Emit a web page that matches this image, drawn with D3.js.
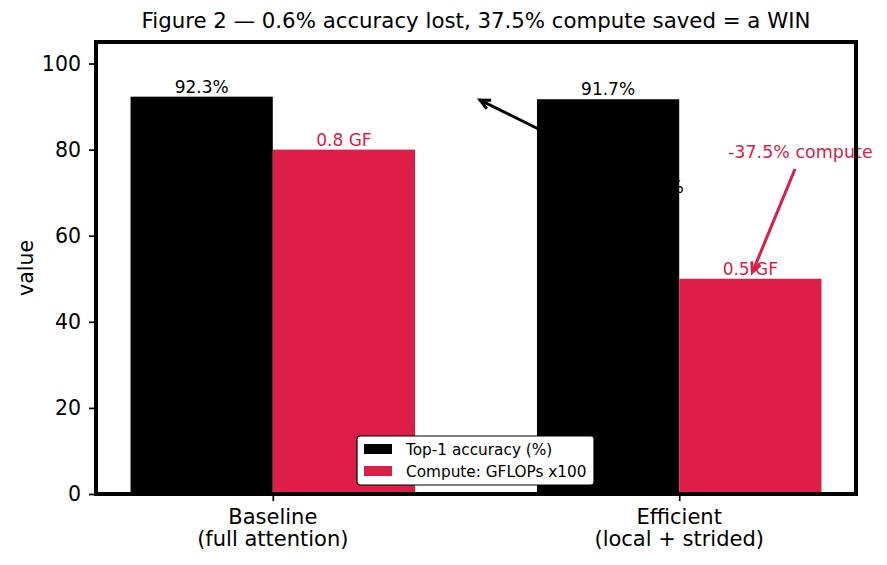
<!DOCTYPE html>
<html>
<head>
<meta charset="utf-8">
<script src="https://cdn.jsdelivr.net/npm/d3@7"></script>
<style>
  body { margin: 0; background: #fff; }
  text { font-family: "DejaVu Sans", sans-serif; }
</style>
</head>
<body>
<svg id="chart" width="887" height="565"></svg>
<script>
// data
const categories = ['Baseline\n(full attention)', 'Efficient\n(local + strided)']
const accuracy = [92.3, 91.7]
const compute = [80, 50]
const accLabels = ['92.3%', '91.7%']
const compLabels = ['0.8 GF', '0.5 GF']
const yTicks = [0, 20, 40, 60, 80, 100]
const seriesNames = ['Top-1 accuracy (%)', 'Compute: GFLOPs x100']

const black = '#000000'
const red = '#DC1E48'

const svg = d3.select('#chart')
const plotL = 96, plotR = 856, plotT = 42, plotB = 494
const barW = 0.35

// x is continuous like matplotlib positions 0,1
const x = d3.scaleLinear().domain([-0.435, 1.435]).range([plotL, plotR])
const y = d3.scaleLinear().domain([0, 105]).range([plotB, plotT])

// title
svg.append('text')
  .attr('x', (plotL + plotR) / 2).attr('y', 28)
  .attr('text-anchor', 'middle')
  .style('font-size', '21.3px')
  .text('Figure 2 \u2014 0.6% accuracy lost, 37.5% compute saved = a WIN')

// annotation text, mostly hidden under the bar
svg.append('text')
  .attr('x', 684).attr('y', 193)
  .attr('text-anchor', 'end')
  .style('font-size', '17.5px')
  .text('-0.6%')

// bars
const g = svg.append('g')
g.selectAll('rect.acc')
  .data(accuracy)
  .enter().append('rect')
  .attr('class', 'acc')
  .attr('x', (d, i) => x(i - barW))
  .attr('width', x(barW) - x(0))
  .attr('y', (d) => y(d))
  .attr('height', (d) => y(0) - y(d))
  .style('fill', black)

g.selectAll('rect.comp')
  .data(compute)
  .enter().append('rect')
  .attr('class', 'comp')
  .attr('x', (d, i) => x(i))
  .attr('width', x(barW) - x(0))
  .attr('y', (d) => y(d))
  .attr('height', (d) => y(0) - y(d))
  .style('fill', red)

// value labels
g.selectAll('text.acc')
  .data(accuracy)
  .enter().append('text')
  .attr('x', (d, i) => x(i - barW / 2))
  .attr('y', (d) => y(d) - 4)
  .attr('text-anchor', 'middle')
  .style('font-size', '17px')
  .text((d, i) => accLabels[i])

g.selectAll('text.comp')
  .data(compute)
  .enter().append('text')
  .attr('x', (d, i) => x(i + barW / 2))
  .attr('y', (d) => y(d) - 4)
  .attr('text-anchor', 'middle')
  .style('font-size', '17px')
  .style('fill', red)
  .text((d, i) => compLabels[i])

// arrows with open heads like matplotlib '->'
function arrow(x1, y1, x2, y2, color) {
  const a = Math.atan2(y2 - y1, x2 - x1)
  const L = 11, w = 0.45
  svg.append('line')
    .attr('x1', x1).attr('y1', y1).attr('x2', x2).attr('y2', y2)
    .style('stroke', color).style('stroke-width', 3)
  svg.append('path')
    .attr('d', `M${x2 - L * Math.cos(a - w)},${y2 - L * Math.sin(a - w)} L${x2},${y2} L${x2 - L * Math.cos(a + w)},${y2 - L * Math.sin(a + w)}`)
    .style('fill', 'none').style('stroke', color).style('stroke-width', 3)
    .style('stroke-linejoin', 'miter')
}
arrow(x(0.66), y(84.5), x(0.51), y(91.5), black)

svg.append('text')
  .attr('x', 728).attr('y', 158)
  .style('font-size', '17.5px')
  .style('fill', red)
  .text('-37.5% compute')

arrow(x(1.285), y(75.5), x(1.18), y(51.5), red)

// axes
const yAxis = svg.append('g')
  .attr('transform', `translate(${plotL},0)`)
  .call(d3.axisLeft(y).tickValues(yTicks).tickSize(7).tickPadding(8))
yAxis.select('.domain').remove()
yAxis.selectAll('text').style('font-size', '20.5px').style('fill', '#000')
yAxis.selectAll('line').style('stroke-width', 1.7)

const xAxis = svg.append('g')
  .attr('transform', `translate(0,${plotB})`)
  .call(d3.axisBottom(x).tickValues([0, 1]).tickSize(7).tickFormat(''))
xAxis.select('.domain').remove()
xAxis.selectAll('line').style('stroke-width', 1.7)

categories.forEach((c, i) => {
  const lines = c.split('\n')
  const t = svg.append('text')
    .attr('x', x(i)).attr('y', 524)
    .attr('text-anchor', 'middle')
    .style('font-size', '21px')
  lines.forEach((l, j) => {
    t.append('tspan').attr('x', x(i)).attr('dy', j === 0 ? 0 : 22).text(l)
  })
})

svg.append('text')
  .attr('transform', `translate(33,${(plotT + plotB) / 2}) rotate(-90)`)
  .attr('text-anchor', 'middle')
  .style('font-size', '20.5px')
  .text('value')

// frame
svg.append('rect')
  .attr('x', plotL).attr('y', plotT)
  .attr('width', plotR - plotL).attr('height', plotB - plotT)
  .style('fill', 'none').style('stroke', '#000').style('stroke-width', 4)

// legend
const lg = svg.append('g').attr('transform', 'translate(357,436)')
lg.append('rect')
  .attr('width', 237).attr('height', 49).attr('rx', 3)
  .style('fill', '#fff').style('stroke', '#000').style('stroke-width', 1.2)
seriesNames.forEach((s, i) => {
  lg.append('rect')
    .attr('x', 7).attr('y', 8 + i * 22)
    .attr('width', 28).attr('height', 10)
    .style('fill', i === 0 ? black : red)
  lg.append('text')
    .attr('x', 49).attr('y', 19 + i * 22)
    .style('font-size', '15.3px')
    .text(s)
})
</script>
</body>
</html>
